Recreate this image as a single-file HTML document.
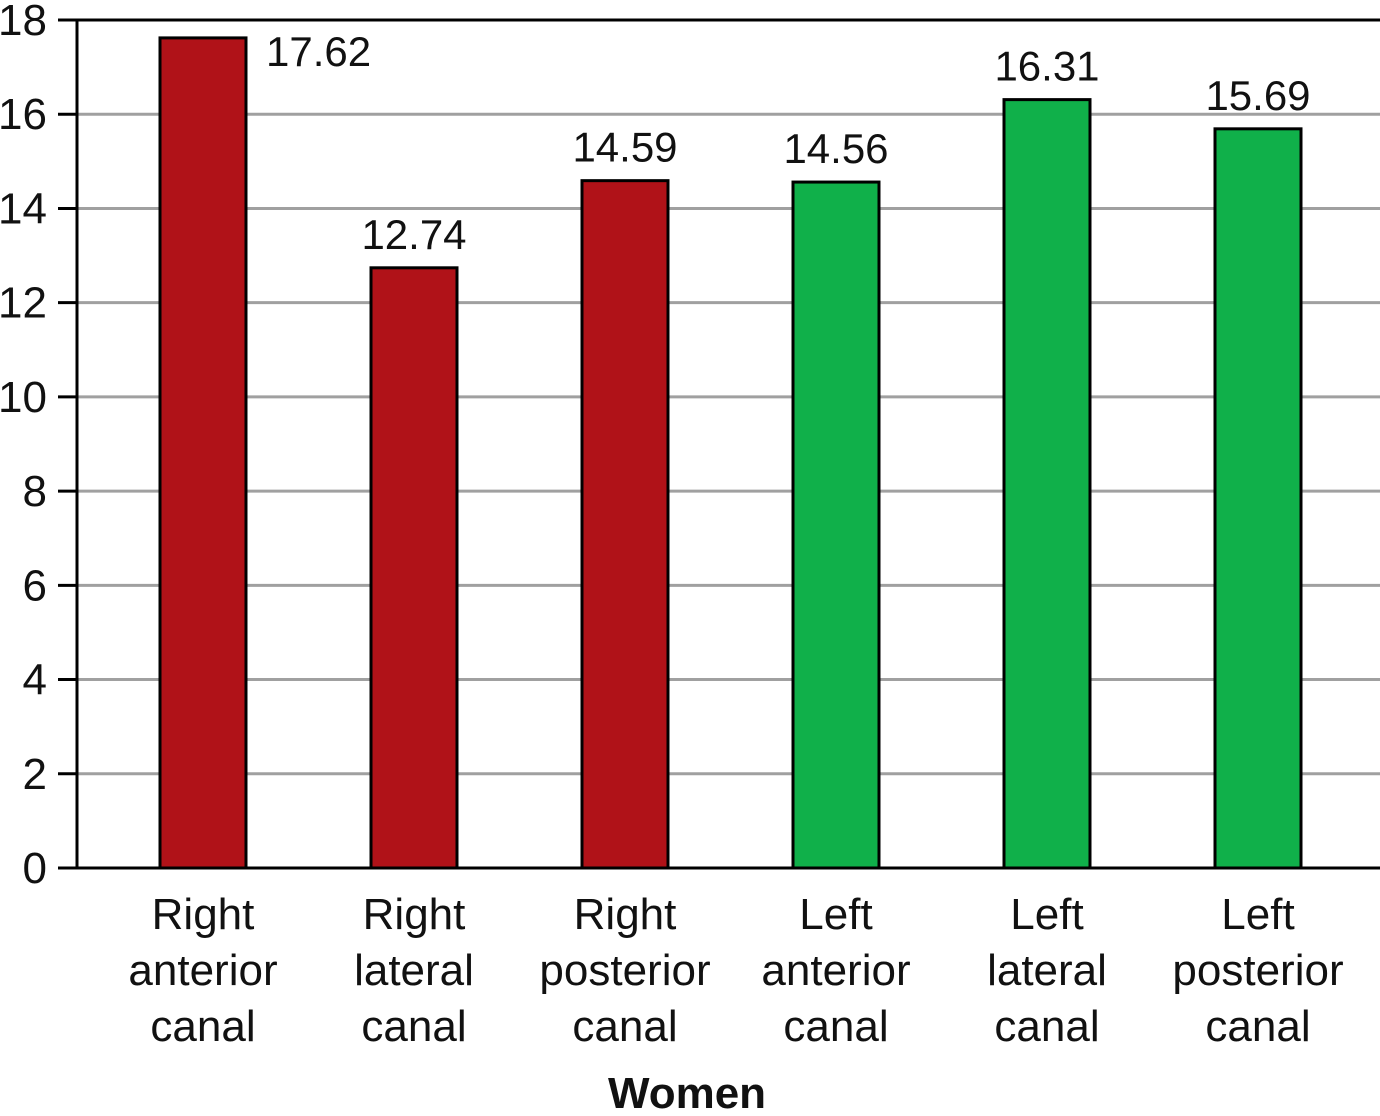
<!DOCTYPE html>
<html><head><meta charset="utf-8"><style>
body{margin:0;background:#fff}
svg text{font-family:"Liberation Sans","DejaVu Sans",sans-serif;fill:#111}
</style></head><body>
<svg id="chart" width="1380" height="1111" viewBox="0 0 1380 1111" xmlns="http://www.w3.org/2000/svg"></svg>
<script>
const categories=[["Right","anterior","canal"],["Right","lateral","canal"],["Right","posterior","canal"],["Left","anterior","canal"],["Left","lateral","canal"],["Left","posterior","canal"]];
const values=[17.62,12.74,14.59,14.56,16.31,15.69];
const valueLabels=["17.62","12.74","14.59","14.56","16.31","15.69"];
const colors=["#b01218","#b01218","#b01218","#10b04a","#10b04a","#10b04a"];
const yTicks=[0,2,4,6,8,10,12,14,16,18];
const svg=document.getElementById('chart');
const NS="http://www.w3.org/2000/svg";
const y0=868,y1=20,yMax=18,axisX=77;
const y=v=>y0-(y0-y1)*v/yMax;
const xc=i=>203+i*211;
const bw=86;
function mk(t,a,p){const e=document.createElementNS(NS,t);for(const k in a)e.setAttribute(k,a[k]);(p||svg).appendChild(e);return e;}
yTicks.forEach(t=>{
  if(t>0&&t<18){const g=mk('line',{x1:axisX,x2:1380,y1:y(t),y2:y(t),stroke:'#a0a0a0','stroke-width':3});
  
  }
  const tk=mk('line',{x1:58,x2:axisX,y1:y(t),y2:y(t),stroke:'#000','stroke-width':3});
  
  
  const tl=mk('text',{x:47,y:y(t)+15,'text-anchor':'end','font-size':44});
  tl.textContent=t;
  
  
});
const topBorder=mk('line',{x1:58,x2:1380,y1:y1,y2:y1,stroke:'#000','stroke-width':3});


values.forEach((v,i)=>{
  const r=mk('rect',{x:xc(i)-bw/2,y:y(v),width:bw,height:y0-y(v),fill:colors[i],stroke:'#000','stroke-width':3});
  
  
  const over=y(v)<60;
  const lt=mk('text',{x:over?xc(i)+bw/2+20:xc(i),y:over?y(v)+28:y(v)-19,'text-anchor':over?'start':'middle','font-size':42});
  lt.textContent=valueLabels[i];
  
  
  categories[i].forEach((w,j)=>{
    const c=mk('text',{x:xc(i),y:929+j*56,'text-anchor':'middle','font-size':44});
    c.textContent=w;
    
    
  });
});
const ax=mk('line',{x1:axisX,x2:axisX,y1:y1,y2:y0,stroke:'#000','stroke-width':3});


const xa=mk('line',{x1:58,x2:1380,y1:y0,y2:y0,stroke:'#000','stroke-width':3});


const tt=mk('text',{x:687,y:1108,'text-anchor':'middle','font-size':44,'font-weight':'bold'});
tt.textContent='Women';


</script>
</body></html>
